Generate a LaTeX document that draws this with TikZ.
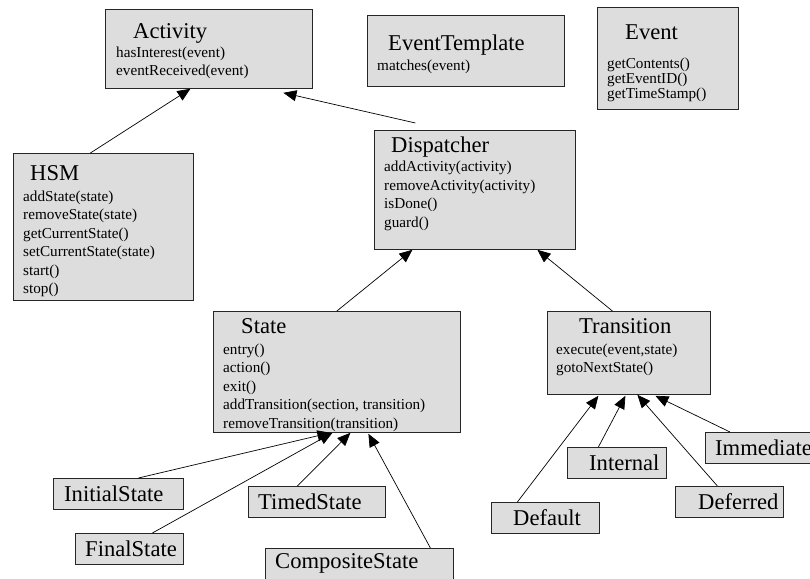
\documentclass[tikz,border=0pt]{standalone}
\usepackage{fontspec}
\setmainfont{Liberation Serif}
\usetikzlibrary{arrows.meta,positioning}
\definecolor{boxgray}{RGB}{221,221,221}
\newcommand{\clsname}{\fontsize{22.6pt}{26pt}\selectfont}
\newcommand{\clsops}{\fontsize{15.2pt}{18.5pt}\selectfont}

\begin{document}
\begin{tikzpicture}[x=1pt, y=-1pt,
    box/.style = {shape=rectangle, draw=black!85, line width=0.8pt,
      fill=boxgray, anchor=north west, inner sep=0pt},
    ops/.style = {align=left, inner sep=0pt, anchor=north west, font=\clsops},
    sub/.style 2 args = {box, minimum height=31pt,
      label={[anchor=west, inner sep=0pt, xshift=#1, font=\clsname]west:#2}},
    isa/.style = {-{Triangle[length=13pt,width=11pt]}, line width=0.7pt}]
  \path[use as bounding box, fill=white] (0,0) rectangle (810,578);

  \node[box, minimum width=207pt, minimum height=79pt] (activity) at (105,9) {};
  \node[ops, below right=14pt and 11pt of activity.north west] (activity-ops)
    {\hspace*{17pt}{\clsname Activity}\\[0.5pt]
     hasInterest(event)\\ eventReceived(event)};

  \node[box, minimum width=197pt, minimum height=71pt] (template) at (367,15) {};
  \node[ops, below right=20pt and 10pt of template.north west] (template-ops)
    {\hspace*{11pt}{\clsname EventTemplate}\\[1.5pt] matches(event)};

  \node[box, minimum width=141pt, minimum height=102pt] (event) at (597,7) {};
  \node[ops, font=\fontsize{15.2pt}{15.2pt}\selectfont,
    below right=18pt and 10pt of event.north west] (event-ops)
    {\hspace*{18pt}{\clsname Event}\\[13pt]
     getContents()\\ getEventID()\\ getTimeStamp()};

  \node[box, minimum width=180pt, minimum height=147pt] (hsm) at (13,153) {};
  \node[ops, below right=12pt and 10pt of hsm.north west] (hsm-ops)
    {\hspace*{7pt}{\clsname HSM}\\[2.5pt]
     addState(state)\\ removeState(state)\\ getCurrentState()\\
     setCurrentState(state)\\ start()\\ stop()};

  \node[box, minimum width=201pt, minimum height=119pt] (dispatcher) at (374,130) {};
  \node[ops, below right=7pt and 10pt of dispatcher.north west] (dispatcher-ops)
    {\hspace*{7pt}{\clsname Dispatcher}\\[0.5pt]
     addActivity(activity)\\ removeActivity(activity)\\ isDone()\\ guard()};

  \node[box, minimum width=247pt, minimum height=121pt] (state) at (213,311) {};
  \node[ops, below right=7pt and 10pt of state.north west] (state-ops)
    {\hspace*{18pt}{\clsname State}\\[2.5pt]
     entry()\\ action()\\ exit()\\ addTransition(section, transition)\\
     removeTransition(transition)};

  \node[box, minimum width=163pt, minimum height=83pt] (transition) at (547,311) {};
  \node[ops, below right=7pt and 9pt of transition.north west] (transition-ops)
    {\hspace*{23pt}{\clsname Transition}\\[2.5pt]
     execute(event,state)\\ gotoNextState()};

  \node[sub={11pt}{InitialState}, minimum width=130pt] (initial) at (53,478) {};
  \node[sub={10pt}{FinalState}, minimum width=108pt] (final) at (75,533) {};
  \node[sub={10pt}{TimedState}, minimum width=137pt] (timed) at (248,486) {};
  \node[sub={10pt}{CompositeState}, minimum width=188pt] (composite) at (265,548) {};

  \node[sub={22pt}{Default}, minimum width=108pt] (default) at (491,502) {};
  \node[sub={22pt}{Internal}, minimum width=99pt] (internal) at (567,447) {};
  \node[sub={23pt}{Deferred}, minimum width=108pt] (deferred) at (675,486) {};
  \node[sub={10pt}{Immediate}, minimum width=130pt] (immediate) at (705,432) {};

  \draw[isa] ([xshift=-13pt]hsm.north) -- ([xshift=-18.5pt]activity.south);
  \draw[isa] ([xshift=-59.5pt,yshift=7pt]dispatcher.north)
    -- ([xshift=74.5pt,yshift=-4pt]activity.south);
  \draw[isa] (state.north) -- ([xshift=-62.5pt]dispatcher.south);
  \draw[isa] ([xshift=-16.5pt]transition.north) -- ([xshift=62.5pt]dispatcher.south);

  \draw[isa] ([xshift=20pt]initial.north) -- ([xshift=-6.5pt]state.south);
  \draw[isa] ([xshift=23pt]final.north) -- ([xshift=-4.5pt]state.south);
  \draw[isa] ([xshift=-19.5pt]timed.north) -- ([xshift=13.5pt]state.south);
  \draw[isa] ([xshift=71pt]composite.north) -- ([xshift=31.5pt,yshift=-1pt]state.south);

  \draw[isa] ([xshift=-28pt]default.north) -- ([xshift=-30.5pt,yshift=-1pt]transition.south);
  \draw[isa] ([xshift=-18.5pt]internal.north) -- ([xshift=-3.5pt,yshift=-1pt]transition.south);
  \draw[isa] ([xshift=-12pt]deferred.north) -- ([xshift=8.5pt]transition.south);
  \draw[isa] ([xshift=25pt]immediate.north west) -- ([xshift=26.5pt,yshift=-1pt]transition.south);
\end{tikzpicture}
\end{document}
